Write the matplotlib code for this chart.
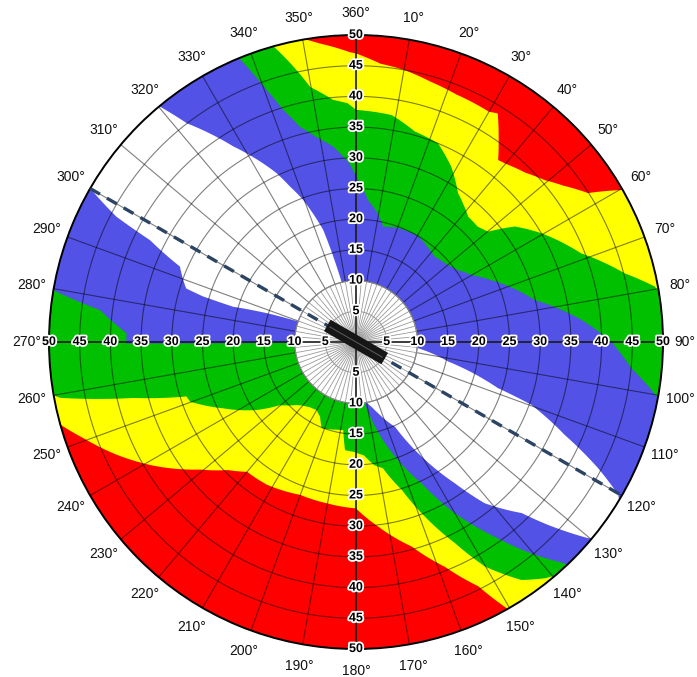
import numpy as np
import matplotlib
matplotlib.use("Agg")
import matplotlib.pyplot as plt
from matplotlib.path import Path
from matplotlib.patches import PathPatch
import matplotlib.patheffects as pe

# ---------------- data (compass degrees, radius) ----------------
# outer edge of the yellow band (red beyond)
yellow_theta = [0, 5, 10, 16, 22, 30, 31.8, 35, 38, 40, 45, 49.4, 53, 57.3, 59.9, 60.3,
                150.4, 153.4, 158.4, 164.8, 173.1, 180, 190, 200, 212, 220, 225, 230.7,
                239.2, 244.8, 250.6, 254.4, 350.4, 353, 355.6, 358.8, 360]
yellow_r = [47, 45.5, 45, 44.1, 43.5, 43.3, 43.8, 40.5, 37.6, 37.9, 39, 40.5, 42.3, 44.9, 49.3, 50,
            50, 44.5, 39.4, 34.5, 30.3, 27.1, 26.7, 26.5, 27.4, 27.6, 29.5, 32.8,
            39.1, 43.1, 47.1, 50, 50, 49, 48.2, 47.2, 47]

# outer edge of the green band
green_theta = [0, 9, 15.6, 22.4, 28.5, 34.4, 41.8, 46.5, 50.1, 54, 59.6, 68.5, 75.7, 79.5, 80.5,
               139.5, 141.3, 145.2, 150.1, 153.8, 159, 162.8, 168, 171.5, 176, 181, 185.8, 188.2,
               192, 201.7, 205.7, 210, 215, 220, 223.3, 230.3, 235.6, 243.5, 250.2, 252.2, 255.9,
               259.3, 260, 344.4, 347.2, 349.8, 354.6, 358, 360]
green_r = [37.8, 37.4, 35.6, 35, 32.5, 29.4, 27.4, 27.3, 28, 32, 35, 39.4, 45.2, 49.5, 50,
           50, 49.3, 47.2, 42.2, 36.5, 29.9, 25.2, 21, 20.3, 18.5, 17.9, 17.7, 14.5,
           14.6, 15.1, 13.5, 12.8, 13, 13.5, 14.1, 16.1, 19.6, 24.2, 28.7, 29, 37.4,
           49, 50, 50, 46, 42.2, 39.6, 38.9, 37.8]

# outer edge of the blue band
blue_theta = [0, 4.8, 7.3, 10, 13.3, 20, 30, 42.7, 50, 54.8, 60, 65.4, 70, 76.8, 84.4, 90, 95.4,
              100.5, 136.4, 137.4, 140.3, 144.5, 150, 155.1, 161.2, 165.8, 169, 172, 269.3,
              269.6, 272.2, 277.1, 279.7, 337.6, 340.5, 342.6, 345.4, 349, 353.4, 358, 360]
blue_r = [27, 23.2, 22.2, 21, 19.3, 19.8, 20, 18.9, 19.5, 20.3, 21.8, 24.2, 26.5, 29.9, 36.9, 41.6, 45,
          50, 50, 48.6, 44.8, 39, 32.2, 25.4, 19.7, 15.5, 12.5, 10, 10,
          37.4, 37.4, 42, 50, 50, 43.5, 39.6, 36.2, 34, 32, 29, 27]

# outer edge of the white band
white_theta = [0, 95.5, 101.9, 108, 109.7, 114, 117.5, 120.2, 121, 129.8, 130.2, 133.6, 135.9,
               141.4, 145, 150.2, 155.3, 162.6, 166, 170, 289.5, 288, 286, 286.6, 287.5, 290,
               293.2, 296.3, 297.6, 299.9, 300.5, 319.8, 320.2, 322.3, 327.9, 334.8, 337, 339.6,
               343.7, 345.1, 346.5, 360]
white_r = [10, 10, 15.3, 24.3, 30.3, 37.2, 44.4, 49.4, 50, 50, 49.5, 43.2, 38.8,
           33.6, 28.1, 21.5, 15.2, 12.2, 11, 10, 10, 15, 20.8, 26, 29, 30,
           31.2, 37.4, 44, 49.7, 50, 50, 49.9, 45, 37.6, 30.4, 27.5, 24.7,
           19, 14.4, 10, 10]

radial_ticks = [5, 10, 15, 20, 25, 30, 35, 40, 45, 50]
angle_ticks = list(range(10, 361, 10))
runway_heading = 120
inner_radius = 10
max_radius = 50

RED, YELLOW, GREEN, BLUE = "#FF0000", "#FFFF00", "#00C000", "#5252E6"
FONT = "Liberation Sans"

fig = plt.figure(figsize=(6.97, 6.77), dpi=100)
ax = fig.add_axes([49 / 697, 28 / 677, 614 / 697, 614 / 677], projection="polar")
ax.set_theta_zero_location("N")
ax.set_theta_direction(-1)
ax.set_ylim(0, max_radius)
ax.set_facecolor(RED)
ax.grid(False)
ax.set_xticks([])
ax.set_yticks([])
ax.spines["polar"].set_color("black")
ax.spines["polar"].set_linewidth(1.4)


def band(theta_deg, r, color, z):
    verts = np.column_stack([np.deg2rad(theta_deg), r])
    path = Path(verts, _interpolation_steps=12)
    ax.add_patch(PathPatch(path, facecolor=color, edgecolor="none", zorder=z))


band(yellow_theta, yellow_r, YELLOW, 1.1)
band(green_theta, green_r, GREEN, 1.2)
band(blue_theta, blue_r, BLUE, 1.3)
band(white_theta, white_r, "white", 1.4)

tt = np.linspace(0, 2 * np.pi, 721)
ax.fill_between(tt, 0, inner_radius, color="white", zorder=1.5, lw=0)

# grid circles
for rr in radial_ticks[1:-1]:
    ax.plot(tt, np.full_like(tt, rr), color="black", alpha=0.5, lw=0.8, zorder=2)
ax.plot(tt, np.full_like(tt, 5), color="#999999", lw=0.7, zorder=2)
ax.plot(tt, np.full_like(tt, inner_radius), color="#888888", lw=0.8, zorder=2.1)

# spokes
for a in range(0, 360, 10):
    if a % 90:
        ax.plot([np.deg2rad(a)] * 2, [inner_radius, max_radius], color="black",
                alpha=0.5, lw=0.8, zorder=2)
for a in range(0, 360, 5):
    if a % 90:
        ax.plot([np.deg2rad(a)] * 2, [0, inner_radius], color="#9a9a9a", lw=0.6, zorder=2)

# main axes
for a in (0, 90):
    ax.plot([np.deg2rad(a), np.deg2rad(a), np.deg2rad(a + 180), np.deg2rad(a + 180)],
            [max_radius, 0, 0, max_radius], color="#1a1a1a", lw=1.2, zorder=3)

# runway centreline (dashed) and runway
h1, h2 = np.deg2rad(runway_heading + 180), np.deg2rad(runway_heading)
ax.plot([h1, h1, h2, h2], [max_radius, 0, 0, max_radius], color="#2B4463", lw=2.4,
        ls=(0, (3.4, 2.4)), zorder=4, solid_capstyle="butt", dash_capstyle="butt")
ax.plot([h1, h1, h2, h2], [5.4, 0, 0, 5.4], color="#161616", lw=9.5,
        solid_capstyle="butt", zorder=5)
ax.plot([h1, h1, h2, h2], [5.0, 0, 0, 5.0], color="#555555", lw=0.8,
        solid_capstyle="butt", zorder=5.1)

# radial labels
stroke = [pe.withStroke(linewidth=2.6, foreground="white")]
for a in (0, 90, 180, 270):
    for rr in radial_ticks:
        ax.text(np.deg2rad(a), rr, str(rr), ha="center", va="center", fontsize=9,
                fontweight="bold", family=FONT, color="black", path_effects=stroke,
                zorder=7, clip_on=False)

# angle labels
for a in angle_ticks:
    ax.text(np.deg2rad(a), 53.6, f"{a}\u00b0", ha="center", va="center", fontsize=10,
            family=FONT, color="#111111", clip_on=False)

fig.savefig("out.png", dpi=100)
